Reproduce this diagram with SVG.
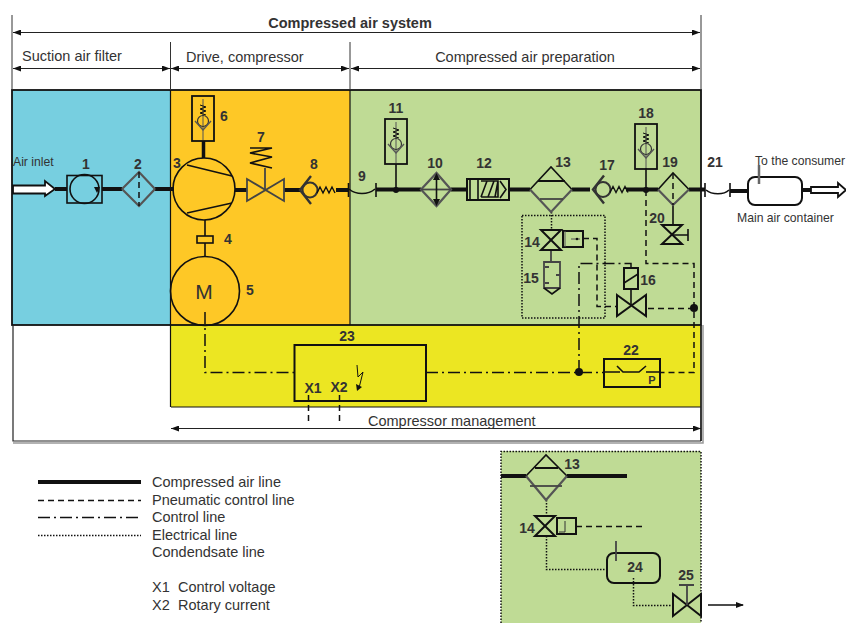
<svg xmlns="http://www.w3.org/2000/svg" xmlns:xlink="http://www.w3.org/1999/xlink" width="846" height="623" viewBox="0 0 846 623">
<style>
text{font-family:"Liberation Sans",Arial,sans-serif;fill:#333;font-size:14.500px}
.n{font-weight:bold;font-size:14px;text-anchor:middle}
.s{font-size:12.200px}
.k{fill:none;stroke:#111;stroke-width:1.6}
.kt{fill:none;stroke:#111;stroke-width:2}
.g{fill:none;stroke:#444;stroke-width:1.8}
.gt{fill:none;stroke:#555;stroke-width:2.200}
.air{fill:none;stroke:#111;stroke-width:4}
.dash{fill:none;stroke:#111;stroke-width:1.500;stroke-dasharray:6 4}
.dd{fill:none;stroke:#111;stroke-width:1.500;stroke-dasharray:12 4 2 4}
.dot{fill:none;stroke:#111;stroke-width:1.500;stroke-dasharray:1.500 1.500}
.dim{fill:none;stroke:#222;stroke-width:1;marker-start:url(#ah);marker-end:url(#ah)}
.v{fill:none;stroke:#333;stroke-width:1}
.hollow{fill:#fff;stroke:#111;stroke-width:1.800}
</style>
<defs>
<marker id="ah" viewBox="0 0 8 6" refX="8" refY="3" markerWidth="8" markerHeight="6" orient="auto-start-reverse" markerUnits="userSpaceOnUse"><path d="M0 0L8 3L0 6Z" fill="#111"/></marker>
<marker id="ae" viewBox="0 0 8 6" refX="7" refY="3" markerWidth="8" markerHeight="6" orient="auto" markerUnits="userSpaceOnUse"><path d="M0 0L8 3L0 6Z" fill="#111"/></marker>
<g id="relief">
<rect x="-11" y="-22" width="22" height="45" fill="none" stroke="#111" stroke-width="1.800"/>
<path d="M0 -19V22" stroke="#555" fill="none"/>
<path d="M-3 -13L3 -11L-3 -9L3 -7L-3 -5L3 -3" fill="none" stroke="#111" stroke-width="1"/>
<circle cx="0" cy="3" r="5.500" fill="none" stroke="#333" stroke-width="1.200"/>
<path d="M-8 3L0 12L8 3" fill="none" stroke="#555" stroke-width="1.300"/>
</g>
<g id="check">
<circle cx="0" cy="0" r="7.500" fill="none" stroke="#333" stroke-width="2"/>
<path d="M1 -14L-10 0L1 14" fill="none" stroke="#333" stroke-width="2.400"/>
<path d="M7 3L10 -3L13 3L16 -3L19 3L22 -3L25 3" fill="none" stroke="#111" stroke-width="1.400"/>
</g>
</defs>

<g id="zones">
<rect x="12" y="90" width="158" height="235" fill="#77cfe0"/>
<rect x="170" y="90" width="180" height="235" fill="#fec826"/>
<rect x="350" y="90" width="351" height="235" fill="#bfdb95"/>
<rect x="171" y="325" width="530" height="82" fill="#ece622"/>
<rect x="501" y="451" width="200" height="172" fill="#bfdb95"/>
<path d="M501 623V451.500H701V623" class="dot"/>
<rect x="12" y="90" width="689" height="235" fill="none" stroke="#111" stroke-width="1.800"/>
<path d="M170.500 90V407M350 90V325M171 407H701" fill="none" stroke="#111" stroke-width="1.200"/>
<path d="M13 325V441H701" fill="none" stroke="#222" stroke-width="1.200"/>
<path d="M701 325V441" fill="none" stroke="#222" stroke-width="1.800"/>
<path d="M13 443H703V325" fill="none" stroke="#999" stroke-width="1.500"/>
</g>

<g id="dimensions">
<path d="M12 15V90M701 15V90M170.500 42V90M350 42V90" class="v"/>
<path d="M13 32.500H700" class="dim"/>
<path d="M13 68.500H170" class="dim"/>
<path d="M171 68.500H349" class="dim"/>
<path d="M351 68.500H700" class="dim"/>
<path d="M171 428.500H701" class="dim"/>
<text x="350" y="28" text-anchor="middle" font-weight="bold">Compressed air system</text>
<text x="22" y="61">Suction air filter</text>
<text x="186" y="62">Drive, compressor</text>
<text x="525" y="62" text-anchor="middle">Compressed air preparation</text>
<text x="368" y="426">Compressor management</text>
</g>

<g id="connectors">
<path d="M55 189H67M102 189H122M155 189H174M235 190H247M284 190H300M336 190H348M376 189.500H421M451 189.500H467M509 189.500H530M572 189.500H590M626 189.500H658M689 189.500H705M730 191H748M802 190H811M501 476H526M567 476H627" class="air"/>
<path d="M203.500 141V158" stroke="#111" stroke-width="3.500" fill="none"/>
<path d="M205 220V236M205 243V256M396 164V190M646 168V190M673 205V225M631 289V305" class="k"/>
<path d="M551 250V261" class="g"/>
<path d="M348.500 183V197M376 183V197M705 183V197M730 183V197" class="k"/>
<path d="M349 189C356 195 368 195 375 189M706 190C712 195 724 195 729 190" class="k"/>
<path d="M205 312V372.500H294M426 372.500H604M579 372V263.500H631V268" class="dd"/>
<path d="M646 190V263.500H694V372.500H660M694 308.500H646M583 238.500H597V306.500H617" class="dash"/>
<path d="M308.500 395V421M339.500 395V421" class="dash" stroke-dasharray="9 7"/>
<path d="M551.500 212V229M522 215.500H605V318H522Z" class="dot"/>
<path d="M546.500 500V516M546.500 536V569.500H607M633.500 578V605.500H673" class="dot"/>
<path d="M576 526.500H642" class="dash"/>
<path d="M708 605H743" fill="none" stroke="#111" stroke-width="1.500" marker-end="url(#ae)"/>
<circle cx="396" cy="190" r="3" fill="#111"/>
<circle cx="646" cy="190" r="3" fill="#111"/>
<circle cx="694" cy="308" r="4" fill="#111"/>
<circle cx="579" cy="372" r="4" fill="#111"/>
</g>

<g id="inlet"><path d="M13 185.500H45V181L55 189L45 196V193.500H13Z" class="hollow"/><text x="13" y="166" class="s">Air inlet</text></g>
<g id="n1"><rect x="67" y="175.500" width="35" height="27.500" class="k"/><circle cx="84.500" cy="189" r="14.500" class="k"/><path d="M94 187L100 187L97 193Z" fill="#111"/><text x="86" y="169" class="n">1</text></g>
<g id="n2"><path d="M122 189L139 172L155 189" class="gt"/><path d="M122 189L139 206L155 189" class="gt"/><path d="M139 172V206" class="dash" stroke-dasharray="4 3"/><text x="138" y="169" class="n">2</text></g>
<g id="n3"><circle cx="204" cy="189" r="31" class="k"/><path d="M187 165L232 176M187 213L232 203" class="k"/><text x="177" y="168" class="n">3</text></g>
<g id="n4"><rect x="197" y="236" width="16" height="7" class="k"/><text x="228" y="244" class="n">4</text></g>
<g id="n5"><circle cx="205" cy="291" r="34.500" class="k"/><text x="204" y="299" text-anchor="middle" style="font-size:21px">M</text><text x="250" y="295" class="n">5</text></g>
<g id="n6"><use xlink:href="#relief" href="#relief" x="203" y="118"/><text x="224" y="121" class="n">6</text></g>
<g id="n7"><path d="M247 179L284 201V179L247 201Z" class="g"/><path d="M265 190V168" class="g"/><path d="M250 148H272L250 153L272 157L250 163L272 168" class="k"/><text x="261" y="142" class="n">7</text></g>
<g id="n8"><use xlink:href="#check" href="#check" x="310" y="190"/><text x="314" y="169" class="n">8</text></g>
<g id="n9"><text x="362" y="181" class="n">9</text></g>
<g id="n10"><path d="M421 189.500L436.500 173L451 189.500L436.500 206Z" class="gt"/><path d="M421 189.500H451" class="g"/><path d="M436.500 178V201" class="k"/><path d="M433 180L436.500 173L440 180ZM433 199L436.500 206L440 199Z" fill="#111"/><text x="435" y="168" class="n">10</text></g>
<g id="n11"><use xlink:href="#relief" href="#relief" x="396" y="141"/><text x="396" y="113" class="n">11</text></g>
<g id="n12"><rect x="467" y="179" width="42" height="21" class="kt"/><path d="M470 179V200M478 179V200M470 200H478M481 197L487 181M488 197L494 181M495 197L498 181M481 181H498V197H481M500 181L506 189.500L500 198" class="k"/><text x="484" y="168" class="n">12</text></g>
<g id="n13"><path d="M530 189.500L551 167L572 189.500" class="k" stroke-width="2"/><path d="M530 189.500L551 212L572 189.500" class="gt"/><path d="M538 181H565" class="kt"/><path d="M540 199H563" class="g"/><text x="563" y="167" class="n">13</text></g>
<g id="n14"><path d="M541 230H561L541 250H561Z" class="kt"/><rect x="563" y="231" width="20" height="16" class="kt"/><path d="M565 231V247M571 239H580" stroke="#555" fill="none"/><circle cx="577" cy="239" r="1.300" fill="#111"/><text x="532" y="247" class="n">14</text></g>
<g id="n15"><path d="M544 262H560V288H544Z" class="g"/><path d="M544 288L552 294L560 288" class="k"/><path d="M545 267H549M545 283H549M556 275H560" class="g"/><text x="531" y="283" class="n">15</text></g>
<g id="n16"><path d="M617 295L646 316V295L617 316Z" class="kt"/><rect x="624" y="268" width="14" height="21" class="kt"/><path d="M624 283L638 274" class="k"/><text x="648" y="285" class="n">16</text></g>
<g id="n17"><use xlink:href="#check" href="#check" x="603" y="189.500"/><text x="607" y="170" class="n">17</text></g>
<g id="n18"><use xlink:href="#relief" href="#relief" x="646" y="146"/><text x="646" y="118" class="n">18</text></g>
<g id="n19"><path d="M658 189.500L673 173L689 189.500" class="k"/><path d="M658 189.500L673 205L689 189.500" class="gt"/><path d="M673 173V205" class="dash" stroke-dasharray="4 3"/><text x="670" y="167" class="n">19</text></g>
<g id="n20"><path d="M662 225H682L662 244H682Z" class="kt"/><path d="M672 235H688M688 229V241" class="k"/><text x="657" y="223" class="n">20</text></g>
<g id="n21"><text x="715" y="167" class="n">21</text></g>
<g id="tank"><rect x="748" y="177" width="54" height="28" rx="7" class="kt"/><path d="M759 165V184" stroke="#666" stroke-width="2.500" fill="none"/><text x="755" y="165" class="s">To the consumer</text><text x="737" y="222" class="s">Main air container</text></g>
<g id="outlet"><path d="M811 187H838V183L846 190L838 197V193H811Z" class="hollow"/></g>
<g id="n22"><rect x="604" y="359" width="56" height="28" class="kt"/><path d="M604 372H620M617 366L623 372H639L646 366M646 372H660" class="k"/><text x="652" y="384" style="font-size:11px;font-weight:bold" text-anchor="middle">P</text><text x="631" y="355" class="n">22</text></g>
<g id="n23"><rect x="294.500" y="345" width="131.500" height="56" class="kt"/><path d="M357 365L358 377L363 372L359 388" stroke="#111" fill="none"/><path d="M356 384L362 387L357 391Z" fill="#111"/><text x="347" y="341" class="n">23</text><text x="313" y="393" class="n">X1</text><text x="339" y="392" class="n">X2</text></g>

<g id="inset13"><path d="M526 476L546 455L567 476" class="k" stroke-width="2"/><path d="M526 476L546 500L567 476" class="gt"/><path d="M535 468H558" class="kt"/><path d="M530 486H562" class="g"/><text x="572" y="469" class="n">13</text></g>
<g id="inset14"><path d="M535 516H555L535 536H555Z" class="kt"/><rect x="557" y="518" width="19" height="16" class="kt"/><path d="M565 521V532H559" stroke="#333" fill="none"/><text x="527" y="533" class="n">14</text></g>
<g id="n24"><rect x="607" y="553" width="53" height="30" rx="7" class="kt"/><path d="M616 541V561" class="g"/><text x="635" y="572" class="n">24</text></g>
<g id="n25"><path d="M673 594L701 616V594L673 616Z" class="kt"/><path d="M687 605V585M679 585H694" class="g"/><text x="686" y="580" class="n">25</text></g>

<g id="legend">
<path d="M38 482H141" class="air"/>
<path d="M38 500.500H141" class="dash"/>
<path d="M38 517.500H141" class="dd"/>
<path d="M38 535.500H141" class="dot"/>
<text x="152" y="487">Compressed air line</text>
<text x="152" y="505">Pneumatic control line</text>
<text x="152" y="522">Control line</text>
<text x="152" y="540">Electrical line</text>
<text x="152" y="557">Condendsate line</text>
<text x="152" y="592">X1<tspan x="178">Control voltage</tspan></text>
<text x="152" y="610">X2<tspan x="178">Rotary current</tspan></text>
</g>
</svg>
